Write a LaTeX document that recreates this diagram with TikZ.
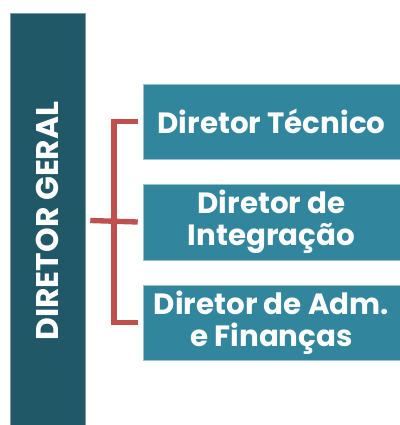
\documentclass[tikz,border=0pt]{standalone}
\usepackage{fontspec}
\setmainfont{Poppins}
\definecolor{darkteal}{HTML}{215868}
\definecolor{teal}{HTML}{31859C}
\definecolor{bracketred}{HTML}{C0504D}
\begin{document}
\begin{tikzpicture}[x=0.75pt,y=-0.75pt,
  chief/.style={fill=darkteal,draw=darkteal!60!white,line width=0.6pt,inner sep=0pt},
  sub/.style={fill=teal,draw=teal!50!white,line width=0.6pt,inner sep=0pt},
  lbl/.style={text=white,font=\bfseries\fontsize{22pt}{24pt}\selectfont,align=center,inner sep=0pt},
  bracket/.style={draw=bracketred,line width=4pt}]
\useasboundingbox (0,0) rectangle (400,425);
\fill[white] (0,0) rectangle (400,425);
% boxes
\path[chief] (10,13) rectangle (85,428);
\node (dg) [minimum width=75*0.75pt, minimum height=415*0.75pt, inner sep=0pt] at (47.5,220.5) {};
\node[lbl,rotate=90,font=\bfseries\fontsize{23.5pt}{24pt}\selectfont] (dgt) at (47,221) {DIRETOR GERAL};
\path[sub] (143,84) rectangle (402,159);
\path[sub] (143,184) rectangle (402,260);
\path[sub] (143,285) rectangle (402,360);
\node (b1) [inner sep=0pt,minimum width=257*0.75pt,minimum height=75*0.75pt] at (271.5,121.5) {};
\node (b2) [inner sep=0pt,minimum width=257*0.75pt,minimum height=76*0.75pt] at (271.5,222) {};
\node (b3) [inner sep=0pt,minimum width=257*0.75pt,minimum height=75*0.75pt] at (271.5,322.5) {};
\node[lbl] (t1) at (271.5,121.5) {Diretor Técnico};
\node[lbl] (t2) at (271.5,222) {Diretor de\\Integração};
\node[lbl] (t3) at (271.5,322.5) {Diretor de Adm.\\e Finanças};
% bracket
\coordinate (bus) at (114,221);
\draw[bracket] ([xshift=-5*0.75pt]b1.west) -| (bus) |- ([xshift=-5*0.75pt]b3.west);
\draw[bracket] ([xshift=5*0.75pt]dg.east) -- ([xshift=-5*0.75pt]b2.west);
\end{tikzpicture}
\end{document}
